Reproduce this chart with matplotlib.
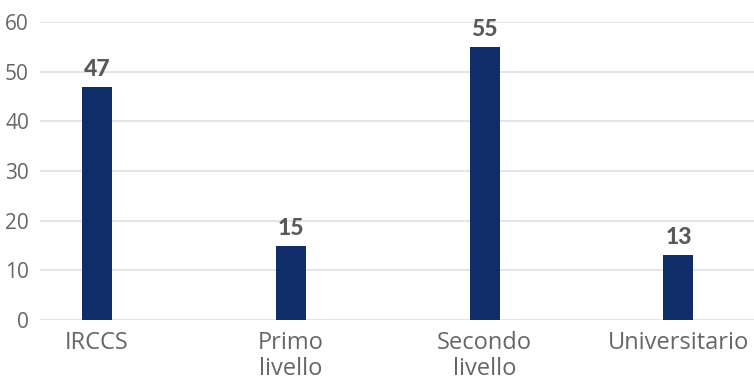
import matplotlib.pyplot as plt

# ---------- DATA ----------
categories = ["IRCCS", "Primo\nlivello", "Secondo\nlivello", "Universitario"]
values = [47, 15, 55, 13]
y_ticks = [0, 10, 20, 30, 40, 50, 60]

# ---------- STYLE ----------
plt.rcParams.update({
    "font.family": ["Open Sans", "DejaVu Sans"],
})
BAR_COLOR = "#0f2d69"
TEXT_COLOR = "#666666"
LABEL_COLOR = "#595959"
GRID_COLOR = "#e3e3e3"

fig = plt.figure(figsize=(7.54, 3.82), dpi=100)
ax = fig.add_axes([40 / 754, 62 / 382, 714 / 754, 298 / 382])

x = list(range(len(categories)))
bars = ax.bar(x, values, width=0.155, color=BAR_COLOR, zorder=3)

for b, v in zip(bars, values):
    ax.text(b.get_x() + b.get_width() / 2, v + 1.4, str(v),
            ha="center", va="bottom", fontsize=16.5, fontweight=900,
            family=["Lato", "DejaVu Sans"], color=LABEL_COLOR)

ax.set_ylim(0, 60)
ax.set_xlim(-0.294, 3.39)
ax.set_yticks(y_ticks)
ax.set_xticks(x)
ax.set_xticklabels(categories, fontsize=17, color=TEXT_COLOR, linespacing=1.08)
ax.tick_params(axis="y", labelsize=15, colors=TEXT_COLOR, length=0, pad=8)
ax.tick_params(axis="x", length=0, pad=8)

ax.grid(axis="y", color=GRID_COLOR, linewidth=1.3, zorder=0)
for s in ax.spines.values():
    s.set_visible(False)

fig.savefig("out.png", dpi=100)
